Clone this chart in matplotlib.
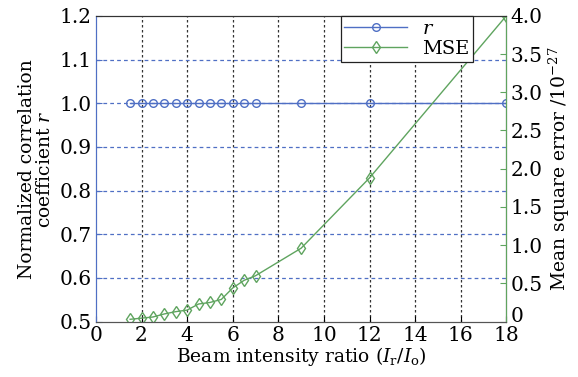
import numpy as np
import matplotlib.pyplot as plt
from matplotlib import transforms

# data
ratio = [1.5, 2, 2.5, 3, 3.5, 4, 4.5, 5, 5.5, 6, 6.5, 7, 9, 12, 18]
r_vals = [1.0] * 15
mse = [0.03, 0.045, 0.06, 0.10, 0.13, 0.15, 0.23, 0.25, 0.29, 0.44, 0.54, 0.60, 0.96, 1.88, 4.0]

blue = '#4f6fc4'
green = '#5fa45f'

plt.rcParams['font.family'] = 'DejaVu Serif'
plt.rcParams['mathtext.fontset'] = 'dejavuserif'
plt.rcParams['font.size'] = 13

fig = plt.figure(figsize=(5.78, 3.77), dpi=100)
ax = fig.add_axes([0.166, 0.147, 0.710, 0.811])
ax2 = ax.twinx()

l1, = ax.plot(ratio, r_vals, '-o', color=blue, lw=1, mfc='none', ms=5.5, mew=1, label='$r$')
l2, = ax2.plot(ratio, mse, '-d', color=green, lw=1, mfc='none', ms=6, mew=1, label='MSE')

ax.set_xlim(0, 18)
ax.set_ylim(0.5, 1.2)
ax2.set_ylim(0, 4)
ax.set_xticks(np.arange(0, 19, 2))
ax.set_yticks(np.arange(0.5, 1.21, 0.1))
ax.set_yticklabels(['0.5', '0.6', '0.7', '0.8', '0.9', '1.0', '1.1', '1.2'])
ax2.set_yticks(np.arange(0, 4.01, 0.5))
ax2.set_yticklabels(['0', '0.5', '1.0', '1.5', '2.0', '2.5', '3.0', '3.5', '4.0'])

# grid: vertical black, horizontal blue
for x in range(2, 18, 2):
    ax.axvline(x, color='#333333', ls=(0, (2, 2)), lw=0.9, zorder=0)
for y in np.arange(0.6, 1.15, 0.1):
    ax.axhline(y, color=blue, ls=(0, (3, 2.5)), lw=0.9, zorder=0)

ax.tick_params(direction='in', length=4, pad=3, labelsize=14.5)
ax.tick_params(axis='y', colors='black', color=blue)
ax2.tick_params(direction='in', length=4, pad=3, color=green, labelsize=14.5)
ax.tick_params(axis='x', top=False)

# the "0" of the right axis sits a little above the corner
lab0 = ax2.get_yticklabels()[0]
lab0.set_transform(lab0.get_transform() + transforms.ScaledTranslation(0, 7 / 100, fig.dpi_scale_trans))

ax.spines['left'].set_color(blue)
ax2.spines['left'].set_color(blue)
ax2.spines['right'].set_color(green)
for a in (ax, ax2):
    a.spines['bottom'].set_color('#555555')
    a.spines['top'].set_color('#333333')

ax.set_xlabel(r'Beam intensity ratio ($I_\mathrm{r}/I_\mathrm{o}$)', labelpad=0, fontsize=13.5)
ax.set_ylabel('Normalized correlation\ncoefficient $r$', linespacing=1.0, fontsize=13.5, labelpad=4)
ax2.set_ylabel('Mean square error /10$^{-27}$', labelpad=3, fontsize=13.5)

leg = ax2.legend([l1, l2], ['$r$', 'MSE'], loc='upper left', bbox_to_anchor=(0.596, 1.0),
                 fancybox=False, edgecolor='#222222', framealpha=1, borderpad=0.2,
                 handlelength=3.2, labelspacing=0.1, borderaxespad=0, fontsize=14)
leg.get_frame().set_linewidth(0.9)

fig.savefig('out.png', dpi=100)
